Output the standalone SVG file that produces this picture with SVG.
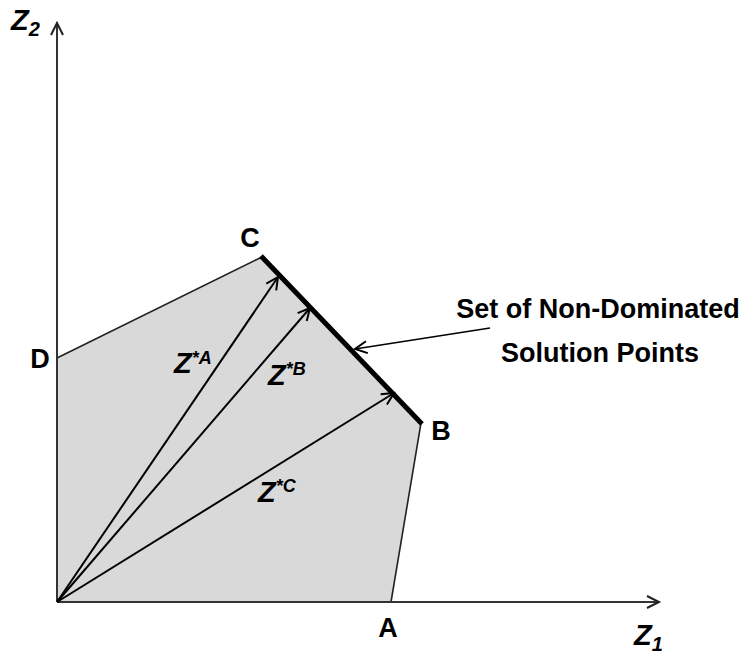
<svg xmlns="http://www.w3.org/2000/svg" width="754" height="654" viewBox="0 0 754 654">
  <style>
    .lbl { font-family: "Liberation Sans", Arial, sans-serif; font-weight: bold; fill: #000; }
    .pt { font-size: 27px; text-anchor: middle; }
    .z { font-family: "Liberation Sans", Arial, sans-serif; font-weight: bold; font-style: italic; fill: #000; }
    .axis { stroke: #333; stroke-width: 2; fill: none; }
    .vec { stroke: #000; stroke-width: 2; fill: none; }
    .edge { stroke: #222; stroke-width: 1.6; fill: none; }
  </style>
  <defs>
    <marker id="open" markerUnits="userSpaceOnUse" markerWidth="16" markerHeight="16" refX="13" refY="7" orient="auto" viewBox="0 0 16 14">
      <path d="M1,1 L13,7 L1,13" fill="none" stroke="#000" stroke-width="2"/>
    </marker>
    <marker id="openAx" markerUnits="userSpaceOnUse" markerWidth="16" markerHeight="16" refX="13" refY="7" orient="auto" viewBox="0 0 16 14">
      <path d="M1,1 L13,7 L1,13" fill="none" stroke="#222" stroke-width="2"/>
    </marker>
  </defs>

  <g id="region">
    <polygon points="57,602 57,358 262,257 421,423 391,602" fill="#d9d9d9" stroke="none"/>
    <polyline class="edge" points="57,358 262,257"/>
    <polyline class="edge" points="421,423 391,602"/>
  </g>

  <g id="pareto-front">
    <line x1="261" y1="256" x2="422" y2="424" stroke="#000" stroke-width="5"/>
  </g>

  <g id="axes">
    <line class="axis" x1="57" y1="602" x2="57" y2="23" marker-end="url(#openAx)"/>
    <line class="axis" x1="57" y1="602" x2="659" y2="602" marker-end="url(#openAx)"/>
  </g>

  <g id="connectors">
    <line class="vec" x1="57" y1="602" x2="278" y2="277" marker-end="url(#open)"/>
    <line class="vec" x1="57" y1="602" x2="310" y2="308" marker-end="url(#open)"/>
    <line class="vec" x1="57" y1="602" x2="394" y2="393" marker-end="url(#open)"/>
    <line x1="490" y1="328" x2="355" y2="349" stroke="#000" stroke-width="1.6" marker-end="url(#open)"/>
  </g>

  <g id="point-A"><text class="lbl pt" x="388" y="637">A</text></g>
  <g id="point-B"><text class="lbl pt" x="441" y="440">B</text></g>
  <g id="point-C"><text class="lbl pt" x="250" y="247">C</text></g>
  <g id="point-D"><text class="lbl pt" x="40" y="368">D</text></g>

  <g id="axis-z2"><text class="z" x="11" y="30" font-size="29">Z<tspan font-size="20" dy="6">2</tspan></text></g>
  <g id="axis-z1"><text class="z" x="634" y="645" font-size="29">Z<tspan font-size="20" dy="6">1</tspan></text></g>

  <g id="label-zA"><text class="z" x="174" y="373" font-size="29">Z<tspan font-size="18" dy="-9">*A</tspan></text></g>
  <g id="label-zB"><text class="z" x="268" y="385" font-size="29">Z<tspan font-size="18" dy="-10">*B</tspan></text></g>
  <g id="label-zC"><text class="z" x="258" y="502" font-size="29">Z<tspan font-size="18" dy="-10">*C</tspan></text></g>

  <g id="callout">
    <text class="lbl" x="598" y="318" font-size="27" text-anchor="middle">Set of Non-Dominated</text>
    <text class="lbl" x="600" y="362" font-size="27" text-anchor="middle">Solution Points</text>
  </g>
</svg>
